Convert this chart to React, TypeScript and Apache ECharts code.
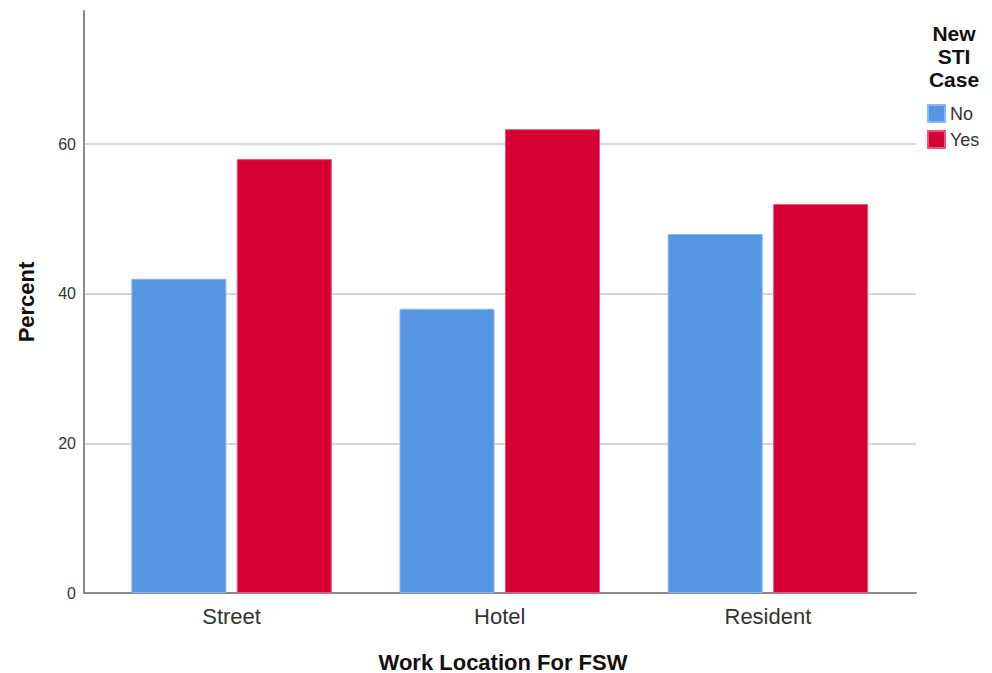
import React, { useEffect, useRef } from "react";
import * as echarts from "echarts";

const categories = ["Street", "Hotel", "Resident"];
const seriesNames = ["No", "Yes"];
const noValues = [42, 38, 48];
const yesValues = [58, 62, 52];
const yTicks = [0, 20, 40, 60];
const xTitle = "Work Location For FSW";
const yTitle = "Percent";
const legendTitle = "New\nSTI\nCase";

export default function App() {
  const ref = useRef<HTMLDivElement>(null);
  useEffect(() => {
    if (!ref.current) return;
    const chart = echarts.init(ref.current, null, { renderer: "svg" });
    const yMax = 77.8;
    const font = "Liberation Sans, Arial, sans-serif";
    chart.setOption({
      animation: false,
      backgroundColor: "#ffffff",
      textStyle: { fontFamily: font },
      grid: [
        { left: 84, right: 76, top: 11, bottom: 80, outerBoundsMode: "none", containLabel: false },
        { left: 97.5, right: 90, top: 11, bottom: 80, outerBoundsMode: "none", containLabel: false },
      ],
      xAxis: [
        {
          gridIndex: 0,
          type: "value",
          min: 0,
          max: 1,
          axisLine: { show: true, lineStyle: { color: "#8a8a8a", width: 2 } },
          axisTick: { show: false },
          axisLabel: { show: false },
          splitLine: { show: false },
        },
        {
          gridIndex: 1,
          type: "category",
          data: categories,
          axisLine: { show: false },
          axisTick: { show: false },
          axisLabel: { fontSize: 22, color: "#333333", margin: 12 },
        },
      ],
      yAxis: [
        {
          gridIndex: 0,
          type: "value",
          min: 0,
          max: yMax,
          interval: 20,
          axisLine: { show: true, lineStyle: { color: "#8a8a8a", width: 2 } },
          axisTick: { show: false },
          axisLabel: {
            fontSize: 16,
            color: "#333333",
            margin: 8,
            showMaxLabel: false,
            formatter: (v: number) => (yTicks.includes(v) ? String(v) : ""),
          },
          splitLine: { show: true, showMaxLine: false, lineStyle: { color: "#c8c8c8", width: 1.5 } },
          name: yTitle,
          nameLocation: "middle",
          nameGap: 47,
          nameTextStyle: { fontSize: 22, fontWeight: "bold", color: "#111111" },
        },
        {
          gridIndex: 1,
          type: "value",
          min: 0,
          max: yMax,
          show: false,
        },
      ],
      legend: {
        orient: "vertical",
        left: 927,
        top: 104,
        icon: "rect",
        itemWidth: 17,
        itemHeight: 17,
        itemGap: 7,
        data: seriesNames,
        textStyle: { fontSize: 18, color: "#333333" },
        padding: 0,
      },
      graphic: [
        {
          type: "text",
          x: 954,
          y: 22,
          style: {
            text: legendTitle,
            fontSize: 21,
            fontWeight: "bold",
            fill: "#111111",
            align: "center",
            lineHeight: 23,
            fontFamily: font,
          },
        },
        {
          type: "text",
          x: 503,
          y: 662,
          style: {
            text: xTitle,
            fontSize: 22,
            fontWeight: "bold",
            fill: "#111111",
            align: "center",
            verticalAlign: "middle",
            fontFamily: font,
          },
        },
      ],
      series: [
        { type: "scatter", xAxisIndex: 0, yAxisIndex: 0, data: [], silent: true },
        {
          name: seriesNames[0],
          type: "bar",
          xAxisIndex: 1,
          yAxisIndex: 1,
          data: noValues,
          barWidth: 95,
          barGap: "11%",
          itemStyle: { color: "#5596e3", borderColor: "#8ab6ee", borderWidth: 1 },
        },
        {
          name: seriesNames[1],
          type: "bar",
          xAxisIndex: 1,
          yAxisIndex: 1,
          data: yesValues,
          barWidth: 95,
          barGap: "11%",
          itemStyle: { color: "#d60032", borderColor: "#e6557a", borderWidth: 1 },
        },
      ],
    });
    return () => chart.dispose();
  }, []);
  return (
    <div
      ref={ref}
      style={{ position: "fixed", top: 0, left: 0, width: 992, height: 673 }}
    />
  );
}
